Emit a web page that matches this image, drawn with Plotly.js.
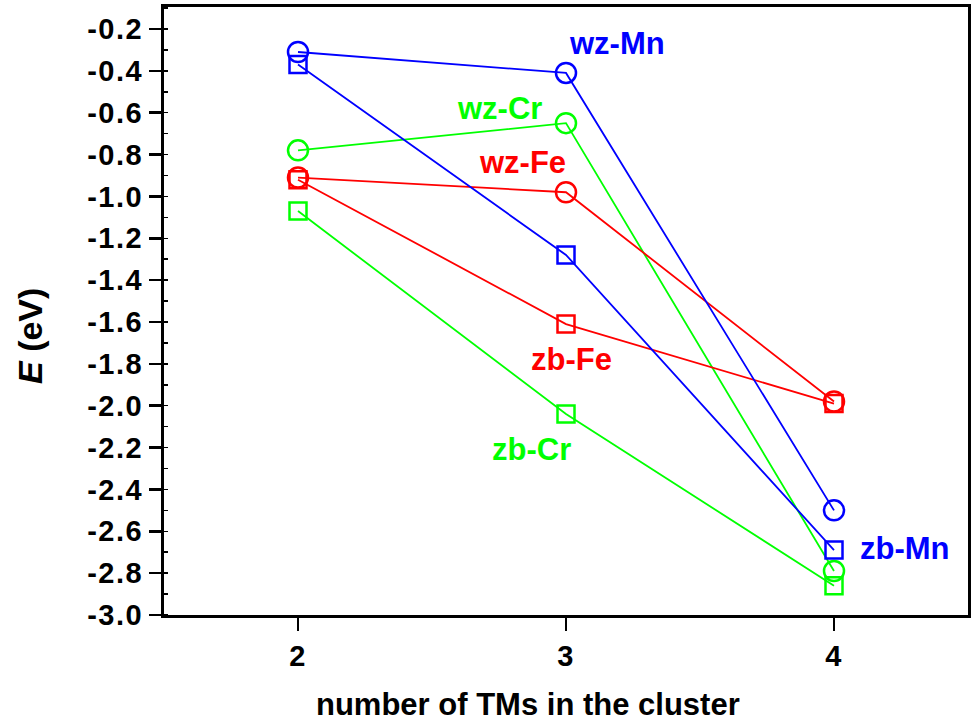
<!DOCTYPE html>
<html>
<head>
<meta charset="utf-8">
<script src="https://cdn.plot.ly/plotly-3.0.1.min.js"></script>
<style>
html,body{margin:0;padding:0;background:#fff;}
#chart{width:974px;height:724px;}
.xtick text, .ytick text {letter-spacing: 1.5px;}
</style>
</head>
<body>
<div id="chart"></div>
<script>
const clusterSizes = [2, 3, 4];
const wzMn = [-0.31, -0.41, -2.50];
const zbMn = [-0.37, -1.28, -2.69];
const wzCr = [-0.78, -0.65, -2.79];
const zbCr = [-1.07, -2.04, -2.86];
const wzFe = [-0.91, -0.98, -1.98];
const zbFe = [-0.92, -1.61, -1.99];
const yTicks = [-3.0, -2.8, -2.6, -2.4, -2.2, -2.0, -1.8, -1.6, -1.4, -1.2, -1.0, -0.8, -0.6, -0.4, -0.2];
const xTicks = [2, 3, 4];

const BLUE = '#0000ff', GREEN = '#00ff00', RED = '#ff0000';
const FONT = 'Liberation Sans, Arial, sans-serif';

function series(name, y, color, symbol, size) {
  return {
    x: clusterSizes, y: y, name: name, type: 'scatter', mode: 'lines+markers',
    line: {color: color, width: 1.8},
    marker: {symbol: symbol, size: size, color: color, line: {color: color, width: 2.5}},
    showlegend: false, cliponaxis: false
  };
}

const data = [
  series('zb-Cr', zbCr, GREEN, 'square-open', 17),
  series('wz-Cr', wzCr, GREEN, 'circle-open', 20),
  series('zb-Fe', zbFe, RED, 'square-open', 17),
  series('wz-Fe', wzFe, RED, 'circle-open', 20),
  series('zb-Mn', zbMn, BLUE, 'square-open', 17),
  series('wz-Mn', wzMn, BLUE, 'circle-open', 20)
];

function label(text, x, y, color) {
  return {text: '<b>' + text + '</b>', x: x, y: y, xref: 'x', yref: 'y', showarrow: false,
    xanchor: 'center', yanchor: 'middle',
    font: {family: FONT, size: 31, color: color}};
}

const plotL = 164, plotR = 968, plotT = 7, plotB = 615;

const layout = {
  width: 974, height: 724,
  margin: {l: plotL, r: 974 - plotR, t: plotT, b: 724 - plotB},
  paper_bgcolor: '#fff', plot_bgcolor: '#fff',
  font: {family: FONT, color: '#000'},
  xaxis: {
    range: [1.5, 4.5], tickvals: xTicks, ticktext: xTicks.map(String),
    ticks: 'outside', ticklen: 13, tickwidth: 2.5, tickcolor: '#000',
    showline: true, linewidth: 3, linecolor: '#000', mirror: true,
    showgrid: false, zeroline: false,
    tickfont: {family: FONT, size: 29, weight: 'bold'}
  },
  yaxis: {
    range: [-3.0, -0.095], tickvals: yTicks, ticktext: yTicks.map(v => v.toFixed(1)),
    ticks: 'outside', ticklen: 12, tickwidth: 2.5, tickcolor: '#000',
    minor: {ticks: 'inside', ticklen: 4, tickwidth: 1.5, tickcolor: '#000', dtick: 0.1, tick0: -3.0, showgrid: false},
    showline: true, linewidth: 3, linecolor: '#000', mirror: true,
    showgrid: false, zeroline: false,
    tickfont: {family: FONT, size: 29, weight: 'bold'}
  },
  annotations: [
    label('wz-Mn', 3.19, -0.267, BLUE),
    label('wz-Cr', 2.75, -0.582, GREEN),
    label('wz-Fe', 2.836, -0.84, RED),
    label('zb-Fe', 3.02, -1.78, RED),
    label('zb-Cr', 2.873, -2.21, GREEN),
    label('zb-Mn', 4.265, -2.68, BLUE),
    {text: '<b><i>E</i> (eV)</b>', xref: 'paper', yref: 'paper',
     x: (30 - plotL) / (plotR - plotL), y: (plotB - 336) / (plotB - plotT),
     xanchor: 'center', yanchor: 'middle', textangle: -90, showarrow: false,
     font: {family: FONT, size: 34, color: '#000'}},
    {text: '<b>number of TMs in the cluster</b>', xref: 'paper', yref: 'paper',
     x: (528 - plotL) / (plotR - plotL), y: (plotB - 704) / (plotB - plotT),
     xanchor: 'center', yanchor: 'middle', showarrow: false,
     font: {family: FONT, size: 31, color: '#000'}}
  ]
};

Plotly.newPlot('chart', data, layout, {staticPlot: true});
</script>
</body>
</html>
